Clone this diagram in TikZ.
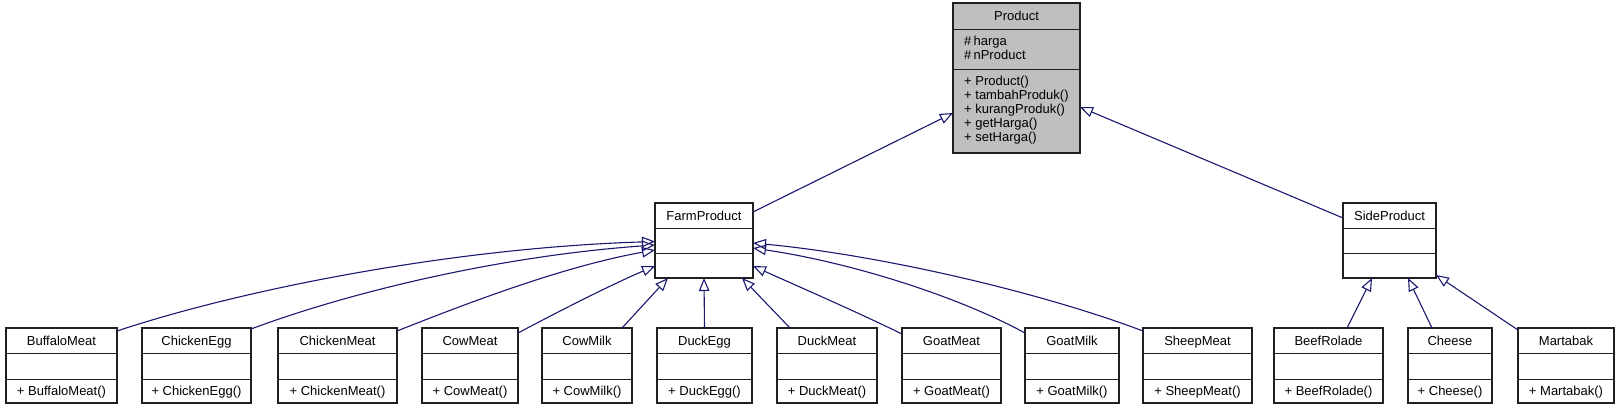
\documentclass[tikz,border=0pt]{standalone}
\usepackage{fontspec}
\setmainfont{Liberation Sans}
\usetikzlibrary{arrows.meta}
\definecolor{edgeblue}{HTML}{191970}
\definecolor{boxgray}{HTML}{BFBFBF}
\definecolor{boxline}{HTML}{202020}
\tikzset{
  clsbox/.style={draw=boxline, line width=1.2pt, fill=white, rectangle, inner sep=0pt, outer sep=0pt, anchor=north west},
  sepline/.style={draw=boxline, line width=1pt},
  lbl/.style={inner sep=0pt, text height=9.3pt, text depth=0pt, font=\fontsize{13}{14}\selectfont},
  lbll/.style={lbl, anchor=west},
  inh/.style={draw=edgeblue, line width=1.1pt, -{Triangle[open, length=13pt, width=10.5pt]}},
}
\newcommand\umlcls[5]{% name, left x, right x, title, member
  \node[clsbox, minimum width={#3-#2}, minimum height=75] (#1) at (#2,328) {};
  \draw[sepline] ([yshift=-25]#1.north west) -- ([yshift=-25]#1.north east);
  \draw[sepline] ([yshift=-51]#1.north west) -- ([yshift=-51]#1.north east);
  \node[lbl] (#1-t) at ([yshift=-12.5]#1.north) {#4};
  \node[lbl] (#1-m) at ([yshift=-63]#1.north) {#5};
}
\newcommand\umlempty[4]{% name, left x, right x, title
  \node[clsbox, minimum width={#3-#2}, minimum height=75] (#1) at (#2,203) {};
  \draw[sepline] ([yshift=-25]#1.north west) -- ([yshift=-25]#1.north east);
  \draw[sepline] ([yshift=-50]#1.north west) -- ([yshift=-50]#1.north east);
  \node[lbl] (#1-t) at ([yshift=-12.5]#1.north) {#4};
}
\begin{document}
\begin{tikzpicture}[x=1pt, y=-1pt]
\useasboundingbox (0,0) rectangle (1620,408);

% Product
\node[clsbox, fill=boxgray, minimum width=127, minimum height=150] (Product) at (953,3) {};
\draw[sepline] ([yshift=-26]Product.north west) -- ([yshift=-26]Product.north east);
\draw[sepline] ([yshift=-66]Product.north west) -- ([yshift=-66]Product.north east);
\node[lbl] (Product-t) at ([yshift=-13]Product.north) {Product};
\node[lbll] (pa1) at (964,41) {\#\,harga};
\node[lbll] (pa2) at (964,55) {\#\,nProduct};
\node[lbll] (pm1) at (964,81) {+ Product()};
\node[lbll] (pm2) at (964,95) {+ tambahProduk()};
\node[lbll] (pm3) at (964,109) {+ kurangProduk()};
\node[lbll] (pm4) at (964,123) {+ getHarga()};
\node[lbll] (pm5) at (964,137) {+ setHarga()};

% middle level
\umlempty{FarmProduct}{655}{753}{FarmProduct}
\umlempty{SideProduct}{1343}{1436}{SideProduct}

% bottom level
\umlcls{BuffaloMeat}{6}{117}{BuffaloMeat}{+ BuffaloMeat()}
\umlcls{ChickenEgg}{142}{251}{ChickenEgg}{+ ChickenEgg()}
\umlcls{ChickenMeat}{278}{397}{ChickenMeat}{+ ChickenMeat()}
\umlcls{CowMeat}{422}{518}{CowMeat}{+ CowMeat()}
\umlcls{CowMilk}{542}{632}{CowMilk}{+ CowMilk()}
\umlcls{DuckEgg}{657}{752}{DuckEgg}{+ DuckEgg()}
\umlcls{DuckMeat}{777}{877}{DuckMeat}{+ DuckMeat()}
\umlcls{GoatMeat}{902}{1001}{GoatMeat}{+ GoatMeat()}
\umlcls{GoatMilk}{1025}{1119}{GoatMilk}{+ GoatMilk()}
\umlcls{SheepMeat}{1143}{1252}{SheepMeat}{+ SheepMeat()}
\umlcls{BeefRolade}{1274}{1383}{BeefRolade}{+ BeefRolade()}
\umlcls{Cheese}{1408}{1492}{Cheese}{+ Cheese()}
\umlcls{Martabak}{1518}{1614}{Martabak}{+ Martabak()}

% edges to Product
\draw[inh] ([yshift=-9]FarmProduct.north east) -- ([yshift=-35]Product.west);
\draw[inh] ([yshift=-15]SideProduct.north west) -- ([yshift=-29]Product.east);

% edges to FarmProduct
\draw[inh] ([yshift=-3]BuffaloMeat.north east) .. controls (240,290) and (450,248) .. ([yshift=-1]FarmProduct.west);
\draw[inh] ([yshift=-1]ChickenEgg.north east) .. controls (350,292) and (500,256) .. ([yshift=-4.5]FarmProduct.west);
\draw[inh] ([yshift=-3]ChickenMeat.north east) .. controls (470,302) and (565,266) .. ([yshift=-9.5]FarmProduct.west);
\draw[inh] ([yshift=-5]CowMeat.north east) .. controls (565,308) and (615,283) .. ([yshift=-25.5]FarmProduct.west);
\draw[inh] ([xshift=-10]CowMilk.north east) -- ([xshift=13]FarmProduct.south west);
\draw[inh] (DuckEgg.north) -- (FarmProduct.south);
\draw[inh] ([xshift=13]DuckMeat.north west) -- ([xshift=-11]FarmProduct.south east);
\draw[inh] ([yshift=-6]GoatMeat.north west) .. controls (855,311) and (795,285) .. ([yshift=-25.5]FarmProduct.east);
\draw[inh] ([yshift=-5]GoatMilk.north west) .. controls (965,300) and (860,264) .. ([yshift=-7.5]FarmProduct.east);
\draw[inh] ([yshift=-3]SheepMeat.north west) .. controls (1040,292) and (880,255) .. ([yshift=-2.5]FarmProduct.east);

% edges to SideProduct
\draw[inh] ([xshift=18.5]BeefRolade.north) -- ([xshift=-17.5]SideProduct.south);
\draw[inh] ([xshift=-18]Cheese.north) -- ([xshift=18.5]SideProduct.south);
\draw[inh] ([yshift=-2]Martabak.north west) -- ([yshift=3]SideProduct.south east);
\end{tikzpicture}
\end{document}
